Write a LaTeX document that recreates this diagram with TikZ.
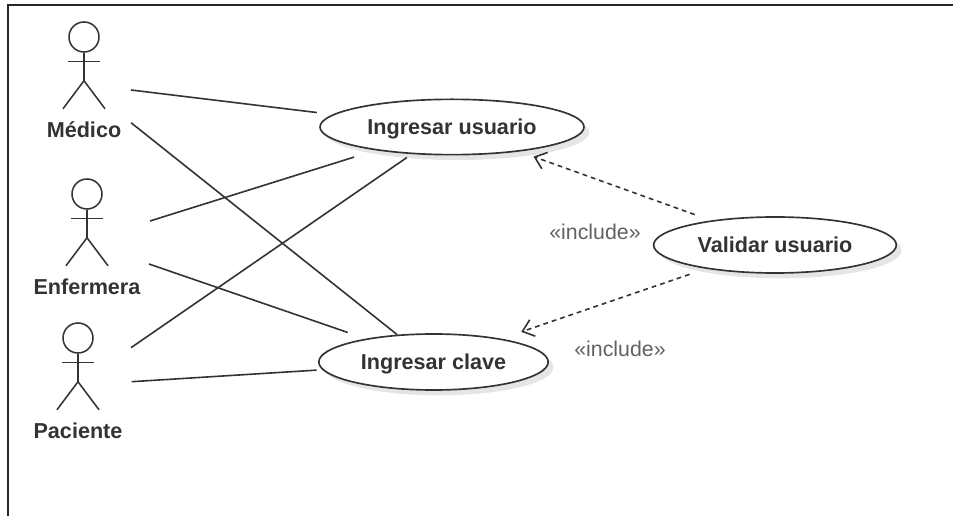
\documentclass[tikz,border=0pt]{standalone}
\usepackage{fontspec}
\setmainfont{Liberation Sans}
\usepackage{tikz}
\usetikzlibrary{arrows.meta, shapes.geometric, shadows}
\usetikzlibrary{calc}
\definecolor{ink}{HTML}{333333}
\tikzset{
    usecase/.style={ellipse, draw=ink, line width=1.25pt, fill=white, inner sep=0pt, text=ink, text height=11.6pt, text depth=0pt, font=\bfseries\fontsize{16.2}{19}\selectfont,
        drop shadow={shadow xshift=4pt, shadow yshift=-4pt, opacity=.1, fill=black}},
    actorline/.style={draw=ink, line width=1.15pt},
    actorname/.style={text=ink, font=\bfseries\fontsize{16.2}{19}\selectfont},
    assoc/.style={draw=ink, line width=1.2pt},
    incl/.style={draw=ink, line width=1.2pt, dash pattern=on 3.6pt off 3pt, -{Straight Barb[length=8pt, width=13pt]}},
    incllabel/.style={text=black!62, font=\fontsize{16}{19}\selectfont},
}
\begin{document}
\begin{tikzpicture}[x=.75pt, y=-.75pt]
\useasboundingbox (0, 0) rectangle (953, 516);
\draw[line width=1.7pt, black!85] (8, 516) -- (8, 5) -- (953, 5);
% actors
\foreach \name/\px/\py/\txt in {medico/84/37/Médico, enfermera/87/194/Enfermera, paciente/78/338/Paciente} {
    \node[circle, actorline, minimum size=22.5pt, inner sep=0pt] (\name) at (\px, \py) {};
    \draw[actorline] (\name.south) -- ++(0, 28) coordinate (\name hip);
    \draw[actorline] ($(\px, \py) + (-16, 24.5)$) -- ++(32, 0);
    \draw[actorline] (\name hip) -- ++(-21, 28);
    \draw[actorline] (\name hip) -- ++(21, 28);
    \node[actorname] (\name label) at (\px, \py + 93) {\txt};
}
% use cases
\node[usecase, minimum width=198pt, minimum height=41.5pt] (usuario) at (452, 127) {Ingresar usuario};
\node[usecase, minimum width=172pt, minimum height=42pt] (clave) at (433.5, 362) {Ingresar clave};
\node[usecase, minimum width=182pt, minimum height=42pt] (validar) at (775, 245) {Validar usuario};
% free ends near the actors
\coordinate (m1) at (131, 90);
\coordinate (m2) at (131, 122.7);
\coordinate (e1) at (150, 221);
\coordinate (e2) at (149, 264);
\coordinate (p1) at (131, 347.7);
\coordinate (p2) at (131.7, 381.7);
\draw[assoc, shorten >=12pt] (m1) -- (usuario.174);
\draw[assoc] (m2) -- (clave.143);
\draw[assoc, shorten >=17pt] (e1) -- (usuario.197.5);
\draw[assoc, shorten >=14.3pt] (e2) -- (clave.161.2);
\draw[assoc, shorten >=4.5pt] (p1) -- (usuario.214.7);
\draw[assoc, shorten >=4.3pt] (p2) -- (clave.184);
% includes
\draw[incl, shorten <=13pt, shorten >=11.2pt] (validar.159.5) -- (usuario.340.3);
\draw[incl, shorten <=13pt, shorten >=15.8pt] (validar.199.3) -- (clave.19.4);
\node[incllabel] (inclusuario) at (595, 232) {«include»};
\node[incllabel] (inclclave) at (620, 349) {«include»};
\end{tikzpicture}
\end{document}
